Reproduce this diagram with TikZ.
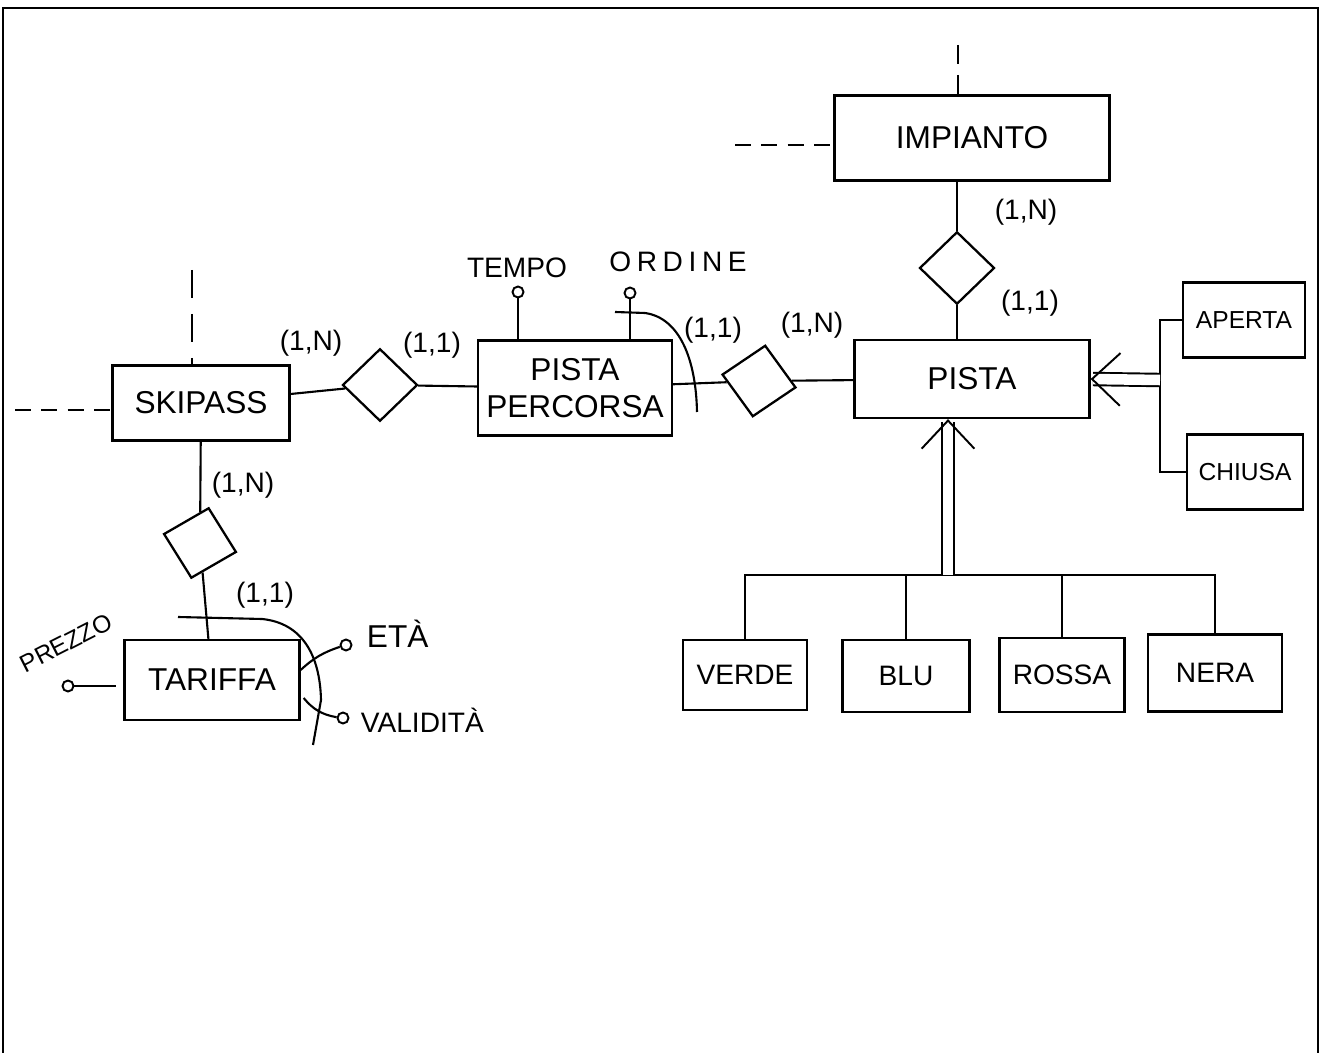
\documentclass[tikz,border=0pt]{standalone}
\usepackage{fontspec}
\setmainfont{Liberation Sans}
\usetikzlibrary{calc, shapes.geometric, arrows.meta}
\tikzstyle{entity}=[draw, line width=1.3pt, inner sep=0, font=\fontsize{18}{21}\selectfont]
\tikzstyle{subentity}=[entity, font=\fontsize{16}{19}\selectfont]
\tikzstyle{relation}=[draw, diamond, line width=1.3pt, inner sep=0, minimum width=1.5cm, minimum height=1.45cm]
\tikzstyle{attr}=[draw, circle, line width=1.1pt, inner sep=0, minimum size=0.22cm]
\tikzstyle{card}=[font=\fontsize{16}{18}\selectfont]
\tikzstyle{attrname}=[font=\fontsize{15}{17}\selectfont]
\tikzstyle{genarrow}=[double, double distance=6pt, line width=1.1pt, -{Straight Barb[length=16pt, width=30pt]}]

\begin{document}
\begin{tikzpicture}[x=0.02cm, y=-0.02cm, line width=1.2pt]

\useasboundingbox (0, 0) rectangle (1322, 1053);
\draw [line width=1.3pt] (3, 1053) -- (3, 8) -- (1318, 8) -- (1318, 1053);

\node [entity, minimum width=5.5cm, minimum height=1.7cm] (impianto) at (972, 138) {IMPIANTO};
\node [entity, minimum width=4.7cm, minimum height=1.56cm] (pista) at (972, 379) {PISTA};
\node [entity, minimum width=3.54cm, minimum height=1.5cm] (skipass) at (201, 403) {SKIPASS};
\node [entity, minimum width=3.88cm, minimum height=1.9cm, align=center] (percorsa) at (575, 388) {PISTA\\PERCORSA};
\node [entity, minimum width=3.5cm, minimum height=1.6cm] (tariffa) at (212, 680) {TARIFFA};

\node [subentity, minimum width=2.44cm, minimum height=1.5cm, font=\fontsize{14}{17}\selectfont] (aperta) at (1244, 320) {APERTA};
\node [subentity, minimum width=2.32cm, minimum height=1.5cm, font=\fontsize{14}{17}\selectfont] (chiusa) at (1245, 472) {CHIUSA};

\node [subentity, minimum width=2.48cm, minimum height=1.4cm] (verde) at (745, 675) {VERDE};
\node [subentity, minimum width=2.54cm, minimum height=1.44cm] (blu) at (906, 676) {BLU};
\node [subentity, minimum width=2.5cm, minimum height=1.48cm] (rossa) at (1062, 675) {ROSSA};
\node [subentity, minimum width=2.68cm, minimum height=1.54cm] (nera) at (1215, 673) {NERA};

\node [relation] (r1) at (957, 268) {};
\node [relation] (r2) at (380, 385) {};
\node [relation, rotate=-10] (r3) at (759, 381) {};
\node [relation, rotate=-14] (r4) at (200, 543) {};

\node [card] (c1) at (1026, 212) {(1,N)};
\node [card] (c2) at (1030, 303) {(1,1)};
\node [card] (c3) at (311, 343) {(1,N)};
\node [card] (c4) at (432, 345) {(1,1)};
\node [card] (c5) at (713, 330) {(1,1)};
\node [card] (c6) at (812, 325) {(1,N)};
\node [card] (c7) at (243, 485) {(1,N)};
\node [card] (c8) at (265, 595) {(1,1)};

\node [attr] (tempo) at (518, 292) {};
\node [attr] (ordine) at (630, 293) {};
\node [attr] (prezzo) at (68, 686) {};
\node [attr] (eta) at (346, 645) {};
\node [attr] (validita) at (343, 718) {};

\node [attrname, font=\fontsize{16}{18}\selectfont] (tempol) at (517, 268) {TEMPO};
\node [attrname, font=\fontsize{16}{18}\selectfont\addfontfeature{LetterSpace=20}] (ordinel) at (678, 262) {ORDINE};
\node [attrname, rotate=27, font=\fontsize{14}{16}\selectfont] (prezzol) at (66, 643) {PREZZO};
\node [attrname, anchor=west, font=\fontsize{18}{20}\selectfont] (etal) at (360, 634) {ETÀ};
\node [attrname, anchor=west, font=\fontsize{16}{18}\selectfont] (validital) at (354, 720) {VALIDITÀ};

\coordinate (impup) at (958, 45);
\coordinate (impleft) at (735, 145);
\coordinate (skiup) at (192, 270);
\coordinate (skileft) at (15, 410);

\draw [dash pattern=on 11pt off 6pt] (impup) -- (impup |- impianto.north);
\draw [dash pattern=on 9pt off 6pt] (impleft) -- (impleft -| impianto.west);
\draw [dash pattern=on 16pt off 9pt] (skiup) -- (skiup |- skipass.north);
\draw [dash pattern=on 9pt off 6pt] (skileft) -- (skileft -| skipass.west);

\draw (impianto.south -| r1) -- (r1.north);
\draw (r1.south) -- (r1 |- pista.north);
\draw (skipass) -- (r2);
\draw (r2) -- (percorsa);
\draw (percorsa) -- (r3);
\draw (r3) -- (pista);
\draw (skipass) -- (r4);
\draw (r4) -- (tariffa);

\draw (tempo) -- (tempo |- percorsa.north);
\draw (ordine) -- (ordine |- percorsa.north);
\draw (prezzo) -- ($(tariffa.west)+(-7, 6)$);
\draw (eta) to [bend right=12] ($(tariffa.east)+(0, -10)$);
\draw ($(tariffa.east)+(3, 18)$) to [bend right=20] (validita);

\draw (615, 312) -- (645, 313) .. controls (680, 318) and (696, 360) .. (697, 412);
\draw (178, 617) -- (262, 619) .. controls (302, 623) and (320, 655) .. (321, 700) -- (313, 745);

\coordinate (ghub) at (1160, 380);
\draw (aperta.west) -- (aperta.west -| ghub) -- (chiusa.west -| ghub) -- (chiusa.west);
\draw [genarrow] (ghub) -- (pista.east);

\coordinate (gbar) at (948, 575);
\draw (verde.north) -- (verde.north |- gbar) -- (nera.north |- gbar) -- (nera.north);
\draw (blu.north) -- (blu.north |- gbar);
\draw (rossa.north) -- (rossa.north |- gbar);
\draw [genarrow] (gbar) -- (gbar |- pista.south);

\end{tikzpicture}
\end{document}
